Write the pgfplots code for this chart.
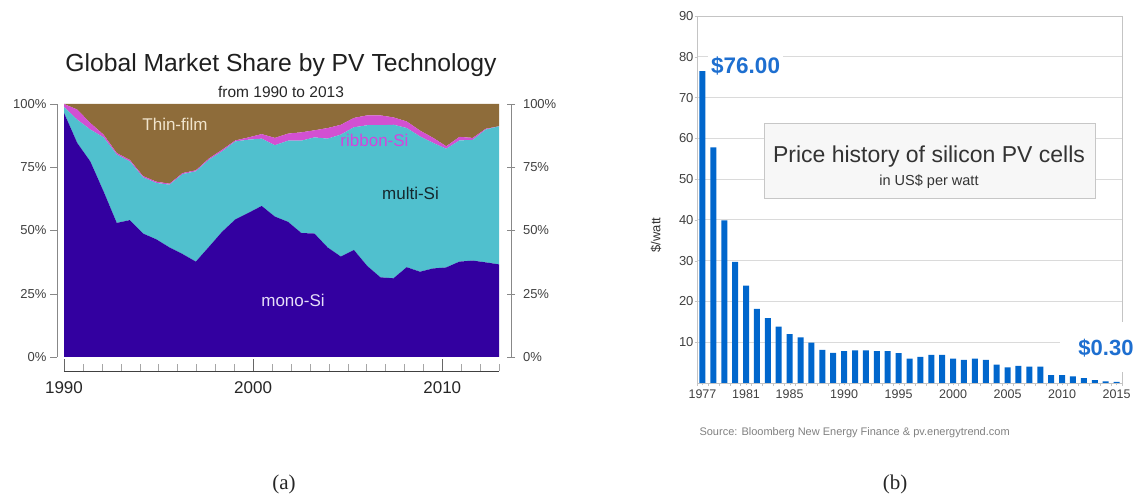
\documentclass[border=0pt]{standalone}
\usepackage{fontspec}
\setmainfont{Liberation Sans}
\newfontfamily\capfont{Liberation Serif}
\usepackage{pgfplots}
\usepackage{pgfplotstable}
\pgfplotsset{compat=1.18}
\definecolor{mono}{HTML}{3300A0}
\definecolor{multi}{HTML}{50C0CE}
\definecolor{ribbon}{HTML}{D250D2}
\definecolor{thin}{HTML}{8E6C3A}
\definecolor{barblue}{HTML}{0066CC}
\definecolor{lblblue}{HTML}{1E6FD0}
\definecolor{gridgray}{HTML}{DADADA}
\definecolor{boxgray}{HTML}{C4C4C4}
\definecolor{tickgray}{HTML}{888888}
\definecolor{txtgray}{HTML}{404040}
\definecolor{thinlbl}{HTML}{F0E4CC}
\definecolor{ribbonlbl}{HTML}{D444DD}
\definecolor{multilbl}{HTML}{15282E}
\definecolor{monolbl}{HTML}{E6DEF8}

\pgfplotstableread{
year mono multi ribbon thin
1990.00 96.5 2.3 1.2 0.0
1990.70 84.6 9.2 4.0 2.2
1991.39 77.3 12.6 2.6 7.5
1992.09 65.5 21.3 1.1 12.1
1992.79 53.0 27.0 0.6 19.4
1993.48 54.1 23.2 0.6 22.1
1994.18 48.8 22.2 0.5 28.5
1994.88 46.5 22.3 0.5 30.7
1995.58 43.3 24.8 0.4 31.5
1996.27 40.7 31.6 0.4 27.3
1996.97 37.7 35.7 0.4 26.2
1997.67 43.6 34.4 0.5 21.5
1998.36 49.5 31.8 0.6 18.1
1999.06 54.4 30.8 0.4 14.4
1999.76 57.0 28.9 0.9 13.2
2000.45 59.7 26.6 1.8 11.9
2001.15 55.5 28.2 2.9 13.4
2001.85 53.4 32.1 2.8 11.7
2002.55 49.0 36.5 3.3 11.2
2003.24 48.8 38.0 2.8 10.4
2003.94 43.3 43.0 4.2 9.5
2004.64 39.7 48.2 3.9 8.2
2005.33 42.3 48.5 3.7 5.5
2006.03 36.0 55.6 3.9 4.5
2006.73 31.5 60.1 3.9 4.5
2007.42 31.1 60.7 2.9 5.3
2008.12 35.5 55.0 2.6 6.9
2008.82 33.7 53.5 2.3 10.5
2009.52 35.0 49.6 2.0 13.4
2010.21 35.4 46.9 1.0 16.7
2010.91 37.7 47.9 1.4 13.0
2011.61 38.1 47.7 0.8 13.4
2012.30 37.4 52.5 0.3 9.8
2013.00 36.6 54.6 0.0 8.8
}\sharetable

\pgfplotstableread{
year price
1977 76.5
1978 57.8
1979 39.9
1980 29.7
1981 23.9
1982 18.2
1983 15.9
1984 13.8
1985 12.0
1986 11.2
1987 9.9
1988 8.1
1989 7.4
1990 7.8
1991 8.0
1992 8.0
1993 7.8
1994 7.8
1995 7.3
1996 6.0
1997 6.4
1998 6.9
1999 6.9
2000 6.0
2001 5.7
2002 6.0
2003 5.7
2004 4.5
2005 3.8
2006 4.2
2007 4.0
2008 4.0
2009 1.9
2010 1.9
2011 1.6
2012 1.2
2013 0.7
2014 0.4
2015 0.3
}\pricetable

\begin{document}
\begin{tikzpicture}
\useasboundingbox (0,0) rectangle (1136pt,497pt);

% ---------- panel (a): data ----------
\begin{axis}[
  at={(64pt,140pt)}, anchor=south west, scale only axis,
  width=435pt, height=253pt,
  xmin=1990, xmax=2013, ymin=0, ymax=100,
  hide axis, stack plots=y,
]
\addplot[fill=mono, draw=none] table[x=year, y=mono] {\sharetable} \closedcycle;
\addplot[fill=multi, draw=none] table[x=year, y=multi] {\sharetable} \closedcycle;
\addplot[fill=ribbon, draw=none] table[x=year, y=ribbon] {\sharetable} \closedcycle;
\addplot[fill=thin, draw=none] table[x=year, y=thin] {\sharetable} \closedcycle;
\end{axis}

\node[text=thinlbl, font=\fontsize{17}{20}\selectfont] at (175pt,373pt) {Thin-film};
\node[text=ribbonlbl, font=\fontsize{17}{20}\selectfont] at (374.5pt,357pt) {ribbon-Si};
\node[text=multilbl, font=\fontsize{17}{20}\selectfont] at (410.5pt,303.5pt) {multi-Si};
\node[text=monolbl, font=\fontsize{17}{20}\selectfont] at (293pt,197pt) {mono-Si};

% bottom x axis of (a)
\begin{axis}[
  at={(64pt,126pt)}, anchor=south west, scale only axis,
  width=435pt, height=267pt,
  xmin=1990, xmax=2013, ymin=0, ymax=1,
  axis x line=bottom, axis y line=none, ytick=\empty,
  x axis line style={draw=black!75, -},
  xtick={1990,2000,2010}, xticklabels={1990,2000,2010},
  minor xtick={1991,...,2013},
  tick align=inside, major tick length=12pt, minor tick length=7pt,
  major tick style={draw=black!60}, minor tick style={draw=black!35},
  xticklabel style={font=\fontsize{17}{20}\selectfont, text=black!85, yshift=-7pt},
]
\end{axis}

% left y axis of (a)
\begin{axis}[
  at={(57pt,140pt)}, anchor=south west, scale only axis,
  width=440pt, height=253pt,
  xmin=0, xmax=1, ymin=0, ymax=100,
  axis y line=left, axis x line=none, xtick=\empty,
  y axis line style={draw=tickgray, -},
  ytick={0,25,50,75,100}, yticklabels={0\%,25\%,50\%,75\%,100\%},
  tick align=outside, major tick length=7pt,
  major tick style={draw=tickgray},
  yticklabel style={font=\fontsize{13}{15}\selectfont, text=txtgray},
]
\end{axis}

% right y axis of (a)
\begin{axis}[
  at={(511pt,140pt)}, anchor=south east, scale only axis,
  width=440pt, height=253pt,
  xmin=0, xmax=1, ymin=0, ymax=100,
  axis y line=right, axis x line=none, xtick=\empty,
  y axis line style={draw=tickgray, -},
  ytick={0,25,50,75,100}, yticklabels={0\%,25\%,50\%,75\%,100\%},
  tick align=center, major tick length=8pt,
  major tick style={draw=tickgray},
  yticklabel style={font=\fontsize{13}{15}\selectfont, text=txtgray, xshift=4.5pt},
]
\end{axis}

\node[anchor=base, font=\fontsize{24.7}{28}\selectfont, text=black!88] at (281pt,425.3pt) {Global Market Share by PV Technology};
\node[anchor=base, font=\fontsize{15.5}{18}\selectfont, text=black!85] at (281pt,399.7pt) {from 1990 to 2013};

% ---------- panel (b) ----------
\begin{axis}[
  at={(697pt,114pt)}, anchor=south west, scale only axis,
  width=425pt, height=367pt,
  xmin=1976.5, xmax=2015.5, ymin=0, ymax=90,
  ybar, bar width=6pt,
  axis line style={draw=boxgray},
  ymajorgrids, grid style={draw=gridgray, line width=0.9pt},
  ytick={10,20,...,90}, yticklabels={10,20,30,40,50,60,70,80,90},
  xtick={1977,1981,1985,1990,1995,2000,2005,2010,2015},
  xticklabels={1977,1981,1985,1990,1995,2000,2005,2010,2015},
  minor xtick={1976.5,1977.5,...,2015.5},
  xtick pos=left, ytick pos=left,
  tick align=outside, major tick length=2.5pt, minor tick length=3pt,
  tick style={draw=boxgray},
  xticklabel style={font=\fontsize{12.5}{15}\selectfont, text=txtgray, yshift=-1pt},
  yticklabel style={font=\fontsize{13}{15}\selectfont, text=txtgray, xshift=2.5pt},
]
\addplot[fill=barblue, draw=none] table[x=year, y=price] {\pricetable};
\end{axis}

\node[rotate=90, font=\fontsize{13}{15}\selectfont, text=black!80] at (656pt,262pt) {\$/watt};

\node[anchor=west, fill=white, inner xsep=3pt, inner ysep=2pt, text=lblblue, font=\bfseries\fontsize{22.5}{26}\selectfont] at (708pt,431pt) {\$76.00\hspace{9pt}};

\fill[white] (1060pt,125pt) rectangle (1136pt,175pt);
\node[text=lblblue, font=\bfseries\fontsize{22}{26}\selectfont] at (1106pt,149pt) {\$0.30};

\draw[fill=black!3, draw=black!22] (764pt,374pt) rectangle (1095pt,299pt);
\node[font=\fontsize{23}{27}\selectfont, text=black!80] at (929pt,340pt) {Price history of silicon PV cells};
\node[font=\fontsize{14.5}{17}\selectfont, text=black!80] at (929pt,315pt) {in US\$ per watt};

\node[anchor=west, font=\fontsize{11}{13}\selectfont, text=black!50] at (696pt,64pt) {Source: Bloomberg New Energy Finance \& pv.energytrend.com};

\node[font=\capfont\fontsize{21}{24}\selectfont, text=black!85] at (284pt,13pt) {(a)};
\node[font=\capfont\fontsize{21}{24}\selectfont, text=black!85] at (895pt,13pt) {(b)};
\end{tikzpicture}
\end{document}
